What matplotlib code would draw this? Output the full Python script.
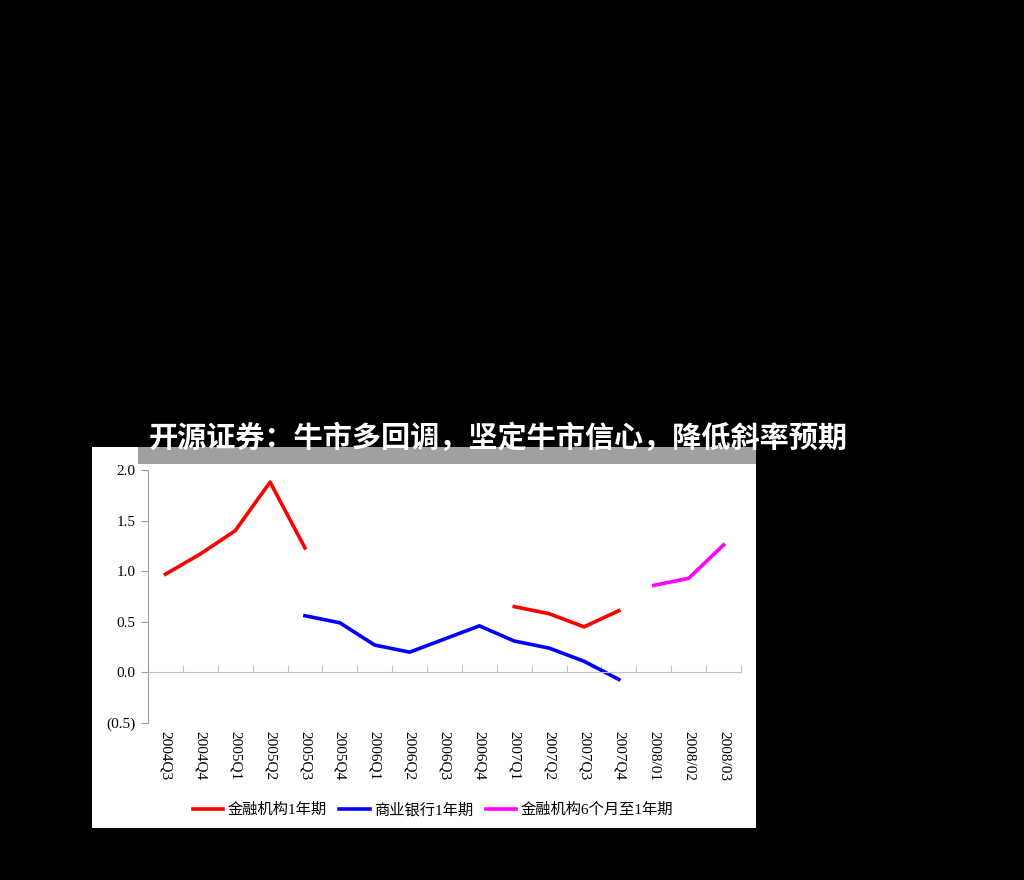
import numpy as np
import matplotlib.pyplot as plt
from matplotlib.patches import Rectangle

# categories and series
cats = ['2004Q3', '2004Q4', '2005Q1', '2005Q2', '2005Q3', '2005Q4',
        '2006Q1', '2006Q2', '2006Q3', '2006Q4', '2007Q1', '2007Q2',
        '2007Q3', '2007Q4', '2008/01', '2008/02', '2008/03']
nan = np.nan
fin_1y = [0.97, 1.17, 1.40, 1.88, 1.23, nan, nan, nan, nan, nan,
          0.65, 0.58, 0.45, 0.61, nan, nan, nan]
bank_1y = [nan, nan, nan, nan, 0.56, 0.49, 0.27, 0.20, 0.33, 0.46,
           0.31, 0.24, 0.11, -0.07, nan, nan, nan]
fin_6m = [nan] * 14 + [0.86, 0.93, 1.26]
yticks = [-0.5, 0.0, 0.5, 1.0, 1.5, 2.0]
ylabels = ['(0.5)', '0.0', '0.5', '1.0', '1.5', '2.0']
names = ['金融机构1年期', '商业银行1年期', '金融机构6个月至1年期']
title = '开源证券：牛市多回调，坚定牛市信心，降低斜率预期'

W, H = 1024, 880
serif = ['Liberation Serif', 'Noto Sans CJK SC']

fig = plt.figure(figsize=(W / 100, H / 100), dpi=100, facecolor='black')

# white chart panel and grey strip
fig.add_artist(Rectangle((92 / W, 1 - 828 / H), 664 / W, 381 / H,
                         transform=fig.transFigure, facecolor='white',
                         edgecolor='none', zorder=0))
fig.add_artist(Rectangle((138 / W, 1 - 464 / H), 618 / W, 17 / H,
                         transform=fig.transFigure, facecolor='#a0a0a0',
                         edgecolor='none', zorder=1))
fig.text(498 / W, 1 - 438 / H, title, ha='center', va='center',
         color='white', fontsize=21, fontweight='heavy',
         family=['Noto Sans CJK SC', 'DejaVu Sans'], zorder=5)

ax = fig.add_axes([148 / W, 1 - 723 / H, 593 / W, 253 / H])
ax.set_facecolor('none')
x = np.arange(len(cats))
ax.plot(x, fin_1y, color='#ff0000', lw=2.6, label=names[0])
ax.plot(x, bank_1y, color='#0000ff', lw=2.6, label=names[1])
ax.plot(x, fin_6m, color='#ff00ff', lw=2.6, label=names[2])

ax.set_xlim(-0.5, len(cats) - 0.5)
ax.set_ylim(-0.5, 2.0)
ax.set_yticks(yticks, ylabels)
for lab in ax.get_yticklabels():
    lab.set_fontfamily(serif)
    lab.set_fontsize(11)
ax.tick_params(axis='y', direction='out', length=5, color='#a0a0a0', pad=4)

# zero line with tick marks between categories
ax.spines['bottom'].set_position(('data', 0))
ax.spines['bottom'].set_color('#c0c0c0')
ax.spines['left'].set_color('#a0a0a0')
ax.spines['top'].set_visible(False)
ax.spines['right'].set_visible(False)
ax.set_xticks(np.arange(-0.5, len(cats), 1))
ax.set_xticklabels([])
ax.tick_params(axis='x', direction='in', length=5, color='#c0c0c0')

# category labels at the bottom of the plot
sec = ax.secondary_xaxis(0)
sec.set_xticks(x, cats)
sec.spines['bottom'].set_visible(False)
sec.tick_params(length=0, pad=6)
for lab in sec.get_xticklabels():
    lab.set_rotation(-90)
    lab.set_fontfamily(serif)
    lab.set_fontsize(11)

leg = fig.legend(loc='center', bbox_to_anchor=(433 / W, 1 - 810 / H), ncol=3,
                 frameon=False, handlelength=2.0, handletextpad=0.3,
                 columnspacing=0.8, prop={'family': serif, 'size': 11})

fig.savefig('out.png', dpi=100, facecolor='black')
